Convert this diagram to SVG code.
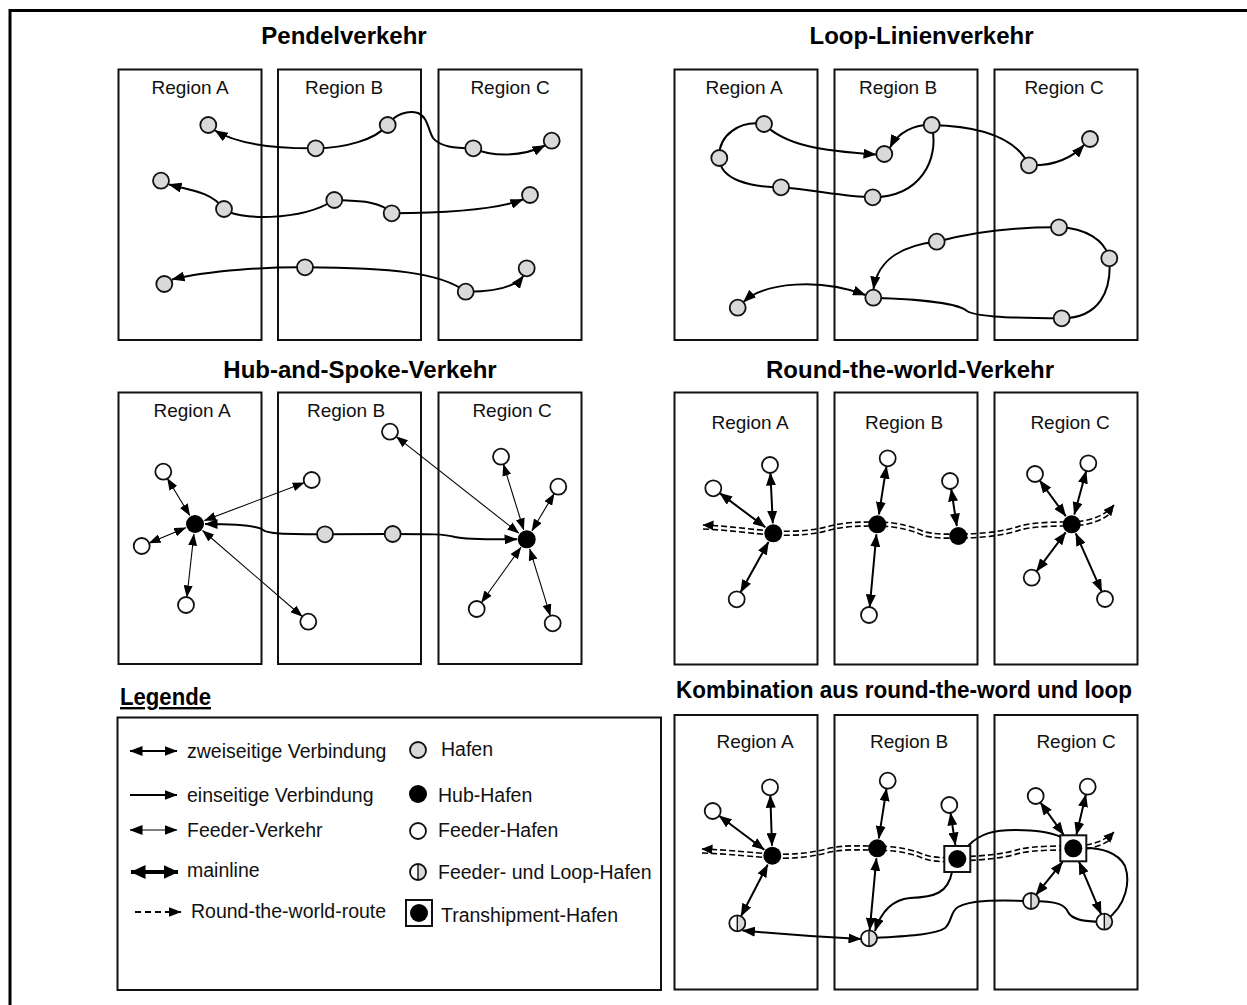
<svg xmlns="http://www.w3.org/2000/svg" xmlns:xlink="http://www.w3.org/1999/xlink" width="1247" height="1005" viewBox="0 0 1247 1005">
<style>
.box{fill:none;stroke:#111;stroke-width:2}
.port{fill:#d9d9d9;stroke:#111;stroke-width:1.8}
.feeder{fill:#fff;stroke:#111;stroke-width:1.8}
.hub{fill:#000}
.route{fill:none;stroke:#000;stroke-width:2}
.thin{fill:none;stroke:#000;stroke-width:1.1}
.link{fill:none;stroke:#000;stroke-width:2}
.main{fill:none;stroke:#000;stroke-width:4}
.rtw{fill:none;stroke:#000;stroke-width:1.6;stroke-dasharray:6 3}
.title{font-family:"Liberation Sans",Arial,sans-serif;font-weight:bold;font-size:24px;fill:#000}
.lbl{font-family:"Liberation Sans",Arial,sans-serif;font-size:19px;fill:#111;text-anchor:middle}
.leg{font-family:"Liberation Sans",Arial,sans-serif;font-size:19.5px;fill:#111}
</style>
<defs>
<marker id="ah" viewBox="0 0 13 10" refX="12.5" refY="5" markerWidth="13" markerHeight="10" markerUnits="userSpaceOnUse" orient="auto-start-reverse"><path d="M0,0L13,5L0,10z"/></marker>
<marker id="ahs" viewBox="0 0 12 9" refX="11.5" refY="4.5" markerWidth="12" markerHeight="9" markerUnits="userSpaceOnUse" orient="auto-start-reverse"><path d="M0,0L12,4.5L0,9z"/></marker>
<marker id="ahb" viewBox="0 0 15 14" refX="14.5" refY="7" markerWidth="15" markerHeight="14" markerUnits="userSpaceOnUse" orient="auto-start-reverse"><path d="M0,0L15,7L0,14z"/></marker>
<marker id="ahd" viewBox="0 0 11 10" refX="10.5" refY="5" markerWidth="11" markerHeight="10" markerUnits="userSpaceOnUse" orient="auto-start-reverse"><path d="M0,0L11,5L0,10z"/></marker>
<g id="fl"><circle r="8" fill="#fff"/><path d="M0,-8A8,8 0 0 1 0,8Z" fill="#d9d9d9"/><line x1="0" y1="-8" x2="0" y2="8" stroke="#111" stroke-width="1.4"/><circle r="8" fill="none" stroke="#111" stroke-width="1.8"/></g>
<g id="ts"><rect x="-13" y="-13" width="26" height="26" fill="#fff" stroke="#111" stroke-width="2"/><circle r="9" fill="#000"/></g>
</defs>

<!-- outer frame -->
<path d="M10,1005V10.5H1247" fill="none" stroke="#000" stroke-width="3"/>

<!-- titles -->
<text class="title" x="344" y="44" text-anchor="middle">Pendelverkehr</text>
<text class="title" x="921.5" y="44" text-anchor="middle">Loop-Linienverkehr</text>
<text class="title" x="360" y="378" text-anchor="middle">Hub-and-Spoke-Verkehr</text>
<text class="title" x="910" y="378" text-anchor="middle">Round-the-world-Verkehr</text>
<text class="title" x="120" y="705" font-size="22" text-decoration="underline" textLength="91" lengthAdjust="spacingAndGlyphs">Legende</text>
<text class="title" x="676" y="698" font-size="23" textLength="456" lengthAdjust="spacingAndGlyphs">Kombination aus round-the-word und loop</text>

<!-- region boxes -->
<g id="regions">
<rect class="box" x="118.5" y="69.5" width="143" height="270.5"/>
<rect class="box" x="278" y="69.5" width="143" height="270.5"/>
<rect class="box" x="438.5" y="69.5" width="143" height="270.5"/>
<rect class="box" x="674.5" y="69.5" width="143" height="270.5"/>
<rect class="box" x="834.5" y="69.5" width="143" height="270.5"/>
<rect class="box" x="994.5" y="69.5" width="143" height="270.5"/>
<rect class="box" x="118.5" y="392.5" width="143" height="271.5"/>
<rect class="box" x="278" y="392.5" width="143" height="271.5"/>
<rect class="box" x="438.5" y="392.5" width="143" height="271.5"/>
<rect class="box" x="674.5" y="392.5" width="143" height="272"/>
<rect class="box" x="834.5" y="392.5" width="143" height="272"/>
<rect class="box" x="994.5" y="392.5" width="143" height="272"/>
<rect class="box" x="674.5" y="715" width="143" height="274.5"/>
<rect class="box" x="834.5" y="715" width="143" height="274.5"/>
<rect class="box" x="994.5" y="715" width="143" height="274.5"/>
<rect class="box" x="117.5" y="717.5" width="543.5" height="272.5"/>
</g>

<!-- region labels -->
<g id="region-labels">
<text class="lbl" x="190" y="94">Region A</text>
<text class="lbl" x="344" y="94">Region B</text>
<text class="lbl" x="510" y="94">Region C</text>
<text class="lbl" x="744" y="94">Region A</text>
<text class="lbl" x="898" y="94">Region B</text>
<text class="lbl" x="1064" y="94">Region C</text>
<text class="lbl" x="192" y="417">Region A</text>
<text class="lbl" x="346" y="417">Region B</text>
<text class="lbl" x="512" y="417">Region C</text>
<text class="lbl" x="750" y="429">Region A</text>
<text class="lbl" x="904" y="429">Region B</text>
<text class="lbl" x="1070" y="429">Region C</text>
<text class="lbl" x="755" y="748">Region A</text>
<text class="lbl" x="909" y="748">Region B</text>
<text class="lbl" x="1076" y="748">Region C</text>
</g>

<!-- connectors -->
<g id="connectors">
<!-- shuttle routes -->
<path class="route" marker-start="url(#ah)" marker-end="url(#ah)" d="M215,130.5C240,146 285,148.5 315.7,148.3C345,148 375,140 387.7,125C395,114 408,110 418,113C428,117 428,130 433,138C440,147 455,148 473.3,148.3C490,156 520,158 545,145.5"/>
<path class="route" marker-start="url(#ah)" marker-end="url(#ah)" d="M169,184.5C190,190 212,192 224,209C235,220 300,222 334.3,200C355,201 380,200 391.7,213.3C440,213 495,210 523,199.5"/>
<path class="route" marker-start="url(#ah)" marker-end="url(#ah)" d="M172,279.5C210,270 270,267 305,267.3C390,268 440,272 465.7,291.7C495,292 515,287 523.5,275.8"/>

<!-- loop routes -->
<path class="route" marker-end="url(#ah)" d="M764,124C785,145 820,151 876,154.5"/>
<path class="route" d="M764,124C740,120 718,135 719.3,158C720,180 750,187 781,187.3C815,190 845,197 872.7,197.3C920,197 940,160 931.7,125"/>
<path class="route" marker-end="url(#ah)" d="M931.7,125C915,124 898,132 890,147.5"/>
<path class="route" marker-end="url(#ah)" d="M931.7,125C975,126 1015,135 1029,165.3C1050,166 1070,160 1084,145"/>
<path class="route" d="M936.7,241.7C980,230 1020,227 1059,227.3C1085,228 1105,240 1109.3,258.3C1112,290 1100,318 1061.7,318.3C1000,318 975,316 967,311C960,305 940,300 873.3,297.7"/>
<path class="route" marker-end="url(#ah)" d="M936.7,241.7C905,245 878,258 873.5,289"/>
<path class="route" marker-start="url(#ah)" marker-end="url(#ah)" d="M743.5,302C765,282 820,278 865.5,295"/>

<!-- hub-and-spoke -->
<path class="thin" marker-start="url(#ahs)" marker-end="url(#ahs)" d="M167.4,478.5L189.8,515.5"/>
<path class="thin" marker-start="url(#ahs)" marker-end="url(#ahs)" d="M149.1,543L185.8,527.8"/>
<path class="thin" marker-start="url(#ahs)" marker-end="url(#ahs)" d="M186.9,597L193.9,534"/>
<path class="thin" marker-start="url(#ahs)" marker-end="url(#ahs)" d="M304.2,482.8L204.4,520.5"/>
<path class="thin" marker-start="url(#ahs)" marker-end="url(#ahs)" d="M302.2,616.5L202.6,530.5"/>
<path class="thin" marker-start="url(#ahs)" marker-end="url(#ahs)" d="M396.3,436.6L518.8,533.1"/>
<path class="thin" marker-start="url(#ahs)" marker-end="url(#ahs)" d="M503.4,464.3L523.7,529.8"/>
<path class="thin" marker-start="url(#ahs)" marker-end="url(#ahs)" d="M554.2,493.6L531.9,530.7"/>
<path class="thin" marker-start="url(#ahs)" marker-end="url(#ahs)" d="M481.4,602.5L520.9,547.4"/>
<path class="thin" marker-start="url(#ahs)" marker-end="url(#ahs)" d="M550.3,615.7L529.7,548.9"/>
<path class="route" marker-start="url(#ah)" marker-end="url(#ah)" d="M205,524C240,524 258,526 263,530C268,534 285,534 325,534.3L392.7,534C430,534 445,534 455,537C465,539.5 490,539.5 517,539.3"/>

<!-- round-the-world -->
<path class="rtw" transform="translate(0,-2)" marker-start="url(#ahd)" marker-end="url(#ahd)" d="M703,527C730,528 755,532 773,533C800,534 815,532 830,528C845,524 860,524 877,524C900,524 915,530 925,534C940,537 950,536 958,536C985,536 1005,533 1020,528C1035,524 1055,524 1072,524C1090,523 1105,518 1114,507"/>
<path class="rtw" transform="translate(0,2)" d="M703,527C730,528 755,532 773,533C800,534 815,532 830,528C845,524 860,524 877,524C900,524 915,530 925,534C940,537 950,536 958,536C985,536 1005,533 1020,528C1035,524 1055,524 1072,524C1090,523 1105,518 1112,509"/>
<path class="link" marker-start="url(#ah)" marker-end="url(#ah)" d="M719.7,493.1L765.3,527.3"/>
<path class="link" marker-start="url(#ah)" marker-end="url(#ah)" d="M770.4,473L772.8,523.3"/>
<path class="link" marker-start="url(#ah)" marker-end="url(#ah)" d="M740.6,592.3L768.5,542"/>
<path class="link" marker-start="url(#ah)" marker-end="url(#ah)" d="M886.5,466.2L878.9,514.4"/>
<path class="link" marker-start="url(#ah)" marker-end="url(#ah)" d="M869.7,607L876.4,534.3"/>
<path class="link" marker-start="url(#ah)" marker-end="url(#ah)" d="M951.2,488.9L956.8,526.1"/>
<path class="link" marker-start="url(#ah)" marker-end="url(#ah)" d="M1039.7,480.5L1065.8,516.2"/>
<path class="link" marker-start="url(#ah)" marker-end="url(#ah)" d="M1086.2,471L1074.3,514.6"/>
<path class="link" marker-start="url(#ah)" marker-end="url(#ah)" d="M1036.5,571.3L1065.7,532.3"/>
<path class="link" marker-start="url(#ah)" marker-end="url(#ah)" d="M1101.7,591.7L1075.8,533.4"/>

<!-- combination -->
<path class="rtw" transform="translate(0,-2)" marker-start="url(#ahd)" marker-end="url(#ahd)" d="M702,851C730,852 755,855 772,856C800,857 815,854 830,850C845,847 860,848 877,848C905,849 915,853 925,857C935,860 945,860 957,859C985,858 1005,856 1020,851C1035,848 1055,848 1073,848C1090,848 1105,843 1114,834"/>
<path class="rtw" transform="translate(0,2)" d="M702,851C730,852 755,855 772,856C800,857 815,854 830,850C845,847 860,848 877,848C905,849 915,853 925,857C935,860 945,860 957,859C985,858 1005,856 1020,851C1035,848 1055,848 1073,848C1090,848 1105,843 1112,836"/>
<path class="link" d="M968,846C980,833 995,830 1015,830C1035,830 1050,832 1061,837"/>
<path class="link" marker-end="url(#ah)" d="M952,872C948,893 935,897 910,898C890,900 880,915 875,931"/>
<path class="link" d="M869,938.3C905,936 935,935 945,928C952,922 950,912 958,907C970,900 995,900 1031,901C1058,901 1065,905 1068,912C1072,920 1085,922 1104.3,921.7C1128,905 1130,880 1125,866C1118,852 1100,848 1086,848"/>
<path class="link" marker-start="url(#ah)" marker-end="url(#ah)" d="M742.5,930.5Q800,936 861,939"/>
<path class="link" marker-start="url(#ah)" marker-end="url(#ah)" d="M719.1,815.8L764.3,849.7"/>
<path class="link" marker-start="url(#ah)" marker-end="url(#ah)" d="M770.3,795.3L772,845.7"/>
<path class="link" marker-start="url(#ah)" marker-end="url(#ah)" d="M741,916.2L767.7,864.6"/>
<path class="link" marker-start="url(#ah)" marker-end="url(#ah)" d="M886.5,788.6L878.8,838.4"/>
<path class="link" marker-start="url(#ah)" marker-end="url(#ah)" d="M869.7,930.3L876.4,858.3"/>
<path class="link" marker-start="url(#ah)" marker-end="url(#ah)" d="M950.5,812.9L955.4,845"/>
<path class="link" marker-start="url(#ah)" marker-end="url(#ah)" d="M1040.4,802.5L1063.7,834.8"/>
<path class="link" marker-start="url(#ah)" marker-end="url(#ah)" d="M1085.9,794.5L1076.4,834.8"/>
<path class="link" marker-start="url(#ah)" marker-end="url(#ah)" d="M1036,894.8L1062.6,861.8"/>
<path class="link" marker-start="url(#ah)" marker-end="url(#ah)" d="M1101.2,914.3L1079,861.8"/>

<!-- legend samples -->
<path class="route" stroke-width="2.5" marker-start="url(#ah)" marker-end="url(#ah)" d="M130,751H177"/>
<path class="route" stroke-width="2.5" marker-end="url(#ah)" d="M130,795H177"/>
<path class="thin" stroke-width="1.3" marker-start="url(#ah)" marker-end="url(#ah)" d="M130,830H177"/>
<path class="main" marker-start="url(#ahb)" marker-end="url(#ahb)" d="M131,872H178"/>
<path class="route" stroke-width="2.5" stroke-dasharray="6 4" marker-end="url(#ah)" d="M135,912H181"/>
</g>

<!-- nodes: shuttle -->
<g id="s-n1"><circle class="port" cx="208.3" cy="125" r="8"/></g>
<g id="s-n2"><circle class="port" cx="315.7" cy="148.3" r="8"/></g>
<g id="s-n3"><circle class="port" cx="387.7" cy="125" r="8"/></g>
<g id="s-n4"><circle class="port" cx="473.3" cy="148.3" r="8"/></g>
<g id="s-n5"><circle class="port" cx="551.7" cy="140.7" r="8"/></g>
<g id="s-m1"><circle class="port" cx="161" cy="180.7" r="8"/></g>
<g id="s-m2"><circle class="port" cx="224" cy="209" r="8"/></g>
<g id="s-m3"><circle class="port" cx="334.3" cy="200" r="8"/></g>
<g id="s-m4"><circle class="port" cx="391.7" cy="213.3" r="8"/></g>
<g id="s-m5"><circle class="port" cx="530" cy="195" r="8"/></g>
<g id="s-k1"><circle class="port" cx="164.3" cy="284" r="8"/></g>
<g id="s-k2"><circle class="port" cx="305" cy="267.3" r="8"/></g>
<g id="s-k3"><circle class="port" cx="465.7" cy="291.7" r="8"/></g>
<g id="s-k4"><circle class="port" cx="526.7" cy="268.3" r="8"/></g>

<!-- nodes: loop -->
<g id="l-1"><circle class="port" cx="764" cy="124" r="8"/></g>
<g id="l-2"><circle class="port" cx="719.3" cy="158" r="8"/></g>
<g id="l-3"><circle class="port" cx="781" cy="187.3" r="8"/></g>
<g id="l-4"><circle class="port" cx="872.7" cy="197.3" r="8"/></g>
<g id="l-5"><circle class="port" cx="931.7" cy="125" r="8"/></g>
<g id="l-6"><circle class="port" cx="884.3" cy="154" r="8"/></g>
<g id="l-7"><circle class="port" cx="1029" cy="165.3" r="8"/></g>
<g id="l-8"><circle class="port" cx="1090" cy="139" r="8"/></g>
<g id="l-p1"><circle class="port" cx="936.7" cy="241.7" r="8"/></g>
<g id="l-p2"><circle class="port" cx="1059" cy="227.3" r="8"/></g>
<g id="l-p3"><circle class="port" cx="1109.3" cy="258.3" r="8"/></g>
<g id="l-p4"><circle class="port" cx="1061.7" cy="318.3" r="8"/></g>
<g id="l-p5"><circle class="port" cx="873.3" cy="297.7" r="8"/></g>
<g id="l-p6"><circle class="port" cx="737.7" cy="307.7" r="8"/></g>

<!-- nodes: hub-and-spoke -->
<g id="h-hubA"><circle class="hub" cx="195" cy="524" r="9"/></g>
<g id="h-a1"><circle class="feeder" cx="163.3" cy="471.7" r="8"/></g>
<g id="h-a2"><circle class="feeder" cx="141.7" cy="546" r="8"/></g>
<g id="h-a3"><circle class="feeder" cx="186" cy="605" r="8"/></g>
<g id="h-a4"><circle class="feeder" cx="311.7" cy="480" r="8"/></g>
<g id="h-a5"><circle class="feeder" cx="308.3" cy="621.7" r="8"/></g>
<g id="h-g1"><circle class="port" cx="325" cy="534.3" r="8"/></g>
<g id="h-g2"><circle class="port" cx="392.7" cy="534" r="8"/></g>
<g id="h-hubC"><circle class="hub" cx="526.7" cy="539.3" r="9"/></g>
<g id="h-c1"><circle class="feeder" cx="390" cy="431.7" r="8"/></g>
<g id="h-c2"><circle class="feeder" cx="501" cy="456.7" r="8"/></g>
<g id="h-c3"><circle class="feeder" cx="558.3" cy="486.7" r="8"/></g>
<g id="h-c4"><circle class="feeder" cx="476.7" cy="609" r="8"/></g>
<g id="h-c5"><circle class="feeder" cx="552.7" cy="623.3" r="8"/></g>

<!-- nodes: round-the-world -->
<g id="r-hubA"><circle class="hub" cx="773.3" cy="533.3" r="9"/></g>
<g id="r-hubB"><circle class="hub" cx="877.3" cy="524.3" r="9"/></g>
<g id="r-hubB2"><circle class="hub" cx="958.3" cy="536" r="9"/></g>
<g id="r-hubC"><circle class="hub" cx="1071.7" cy="524.3" r="9"/></g>
<g id="r-a1"><circle class="feeder" cx="713.3" cy="488.3" r="8"/></g>
<g id="r-a2"><circle class="feeder" cx="770" cy="465" r="8"/></g>
<g id="r-a3"><circle class="feeder" cx="736.7" cy="599.3" r="8"/></g>
<g id="r-b1"><circle class="feeder" cx="887.7" cy="458.3" r="8"/></g>
<g id="r-b2"><circle class="feeder" cx="869" cy="615" r="8"/></g>
<g id="r-b3"><circle class="feeder" cx="950" cy="481" r="8"/></g>
<g id="r-c1"><circle class="feeder" cx="1035" cy="474" r="8"/></g>
<g id="r-c2"><circle class="feeder" cx="1088.3" cy="463.3" r="8"/></g>
<g id="r-c3"><circle class="feeder" cx="1031.7" cy="577.7" r="8"/></g>
<g id="r-c4"><circle class="feeder" cx="1105" cy="599" r="8"/></g>

<!-- nodes: combination -->
<g id="k-hubA"><circle class="hub" cx="772.3" cy="855.7" r="9"/></g>
<g id="k-a1"><circle class="feeder" cx="712.7" cy="811" r="8"/></g>
<g id="k-a2"><circle class="feeder" cx="770" cy="787.3" r="8"/></g>
<g id="k-la"><use xlink:href="#fl" x="737.3" y="923.3"/></g>
<g id="k-hubB"><circle class="hub" cx="877.3" cy="848.3" r="9"/></g>
<g id="k-b1"><circle class="feeder" cx="887.7" cy="780.7" r="8"/></g>
<g id="k-lb"><use xlink:href="#fl" x="869" y="938.3"/></g>
<g id="k-tB"><use xlink:href="#ts" x="957.3" y="859"/></g>
<g id="k-b3"><circle class="feeder" cx="949.3" cy="805" r="8"/></g>
<g id="k-tC"><use xlink:href="#ts" x="1073.3" y="848.3"/></g>
<g id="k-c1"><circle class="feeder" cx="1035.7" cy="796" r="8"/></g>
<g id="k-c2"><circle class="feeder" cx="1087.7" cy="786.7" r="8"/></g>
<g id="k-lc1"><use xlink:href="#fl" x="1031" y="901"/></g>
<g id="k-lc2"><use xlink:href="#fl" x="1104.3" y="921.7"/></g>

<!-- legend -->
<g id="legend">
<text class="leg" x="187" y="758">zweiseitige Verbindung</text>
<text class="leg" x="187" y="802">einseitige Verbindung</text>
<text class="leg" x="187" y="837">Feeder-Verkehr</text>
<text class="leg" x="187" y="877">mainline</text>
<text class="leg" x="191" y="918">Round-the-world-route</text>
<circle class="port" cx="418" cy="750" r="8"/>
<text class="leg" x="441" y="756">Hafen</text>
<circle class="hub" cx="418" cy="794" r="9"/>
<text class="leg" x="438" y="802">Hub-Hafen</text>
<circle class="feeder" cx="418" cy="831" r="8"/>
<text class="leg" x="438" y="837">Feeder-Hafen</text>
<use xlink:href="#fl" x="418" y="872"/>
<text class="leg" x="438" y="879">Feeder- und Loop-Hafen</text>
<use xlink:href="#ts" x="419" y="913"/>
<text class="leg" x="441" y="922">Transhipment-Hafen</text>
</g>
</svg>
